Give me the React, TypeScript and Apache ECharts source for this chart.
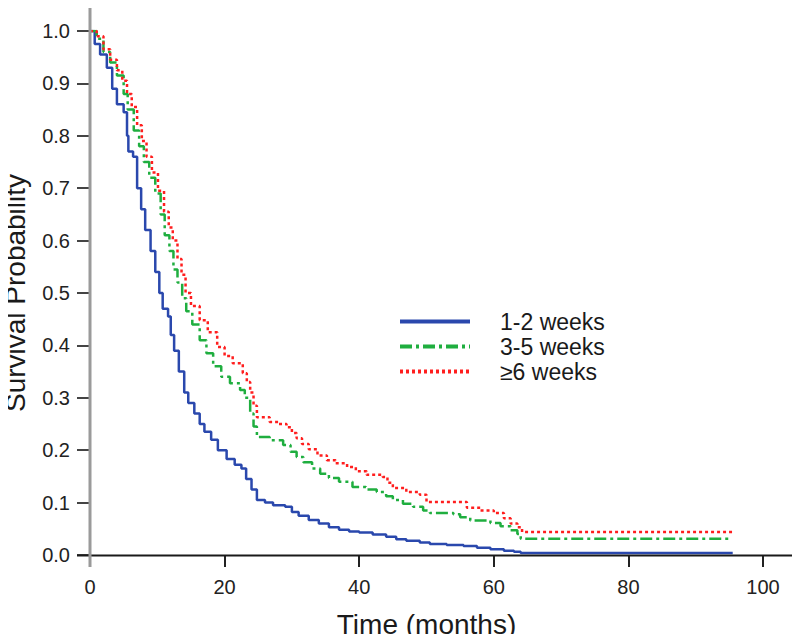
import React, { useEffect, useRef } from "react";
import * as echarts from "echarts";

const seriesNames = ["1-2 weeks", "3-5 weeks", "≥6 weeks"];

const blueT = [0, 0.7, 1.5, 2.5, 3.3, 4.0, 5.0, 5.5, 5.7, 6.4, 7.0, 7.6, 8.2, 9.0, 9.7, 10.3, 10.8, 11.6, 12.0, 12.5, 13.2, 14.0, 14.6, 15.5, 16.3, 17.0, 18.0, 19.0, 20.3, 21.5, 22.5, 23.2, 24.0, 24.8, 26.0, 27.2, 29.0, 30.0, 31.0, 32.5, 34.0, 35.5, 37.0, 38.5, 40.0, 42.0, 44.0, 45.5, 47.0, 49.0, 50.5, 53.0, 55.5, 57.5, 59.5, 61.5, 63.0, 64.0, 95.5];
const blueS = [1.0, 0.975, 0.955, 0.93, 0.89, 0.86, 0.845, 0.8, 0.77, 0.76, 0.7, 0.66, 0.62, 0.58, 0.54, 0.5, 0.47, 0.455, 0.42, 0.39, 0.35, 0.31, 0.29, 0.27, 0.25, 0.235, 0.22, 0.2, 0.183, 0.172, 0.165, 0.145, 0.125, 0.105, 0.1, 0.095, 0.092, 0.082, 0.075, 0.067, 0.06, 0.053, 0.048, 0.045, 0.043, 0.039, 0.035, 0.03, 0.027, 0.024, 0.021, 0.019, 0.017, 0.014, 0.011, 0.008, 0.006, 0.004, 0.004];

const greenT = [0, 1.0, 2.0, 3.0, 4.0, 5.0, 5.6, 6.5, 7.3, 8.0, 8.8, 9.7, 10.5, 11.1, 11.8, 12.4, 13.0, 13.7, 14.3, 15.2, 16.3, 17.3, 18.3, 19.5, 20.8, 22.3, 23.0, 23.8, 24.3, 24.8, 26.7, 28.7, 29.8, 30.7, 31.7, 33.0, 34.2, 35.5, 37.0, 39.0, 41.0, 42.6, 44.0, 45.0, 46.5, 48.0, 49.5, 50.5, 54.0, 55.0, 56.5, 59.5, 61.0, 62.5, 63.5, 64.0, 95.4];
const greenS = [1.0, 0.985, 0.96, 0.94, 0.915, 0.88, 0.85, 0.81, 0.78, 0.75, 0.72, 0.69, 0.65, 0.61, 0.58, 0.545, 0.52, 0.49, 0.465, 0.44, 0.41, 0.385, 0.36, 0.34, 0.328, 0.315, 0.3, 0.27, 0.245, 0.225, 0.219, 0.21, 0.197, 0.187, 0.177, 0.165, 0.155, 0.147, 0.14, 0.13, 0.125, 0.12, 0.112, 0.105, 0.098, 0.092, 0.085, 0.08, 0.078, 0.072, 0.066, 0.061, 0.055, 0.047, 0.04, 0.031, 0.031];

const redT = [0, 1.0, 2.0, 3.0, 4.0, 4.8, 5.5, 6.2, 7.0, 7.7, 8.4, 9.2, 10.1, 11.0, 11.7, 12.3, 13.0, 13.6, 14.2, 15.0, 16.3, 17.5, 18.9, 20.0, 21.2, 22.7, 23.3, 23.8, 24.3, 24.8, 26.7, 28.0, 29.2, 30.0, 30.7, 31.5, 32.5, 33.8, 35.2, 36.5, 38.2, 39.5, 41.1, 43.5, 44.2, 45.0, 47.0, 49.0, 50.0, 55.0, 56.0, 58.0, 60.0, 61.5, 62.5, 63.5, 64.2, 95.4];
const redS = [1.0, 0.99, 0.965, 0.945, 0.925, 0.905, 0.88, 0.855, 0.82, 0.79, 0.76, 0.73, 0.695, 0.655, 0.625, 0.6, 0.565, 0.535, 0.5, 0.475, 0.448, 0.425, 0.397, 0.38, 0.366, 0.347, 0.33, 0.31, 0.285, 0.263, 0.254, 0.25, 0.244, 0.233, 0.223, 0.212, 0.202, 0.19, 0.181, 0.175, 0.168, 0.16, 0.153, 0.149, 0.138, 0.128, 0.12, 0.115, 0.101, 0.101, 0.09, 0.085, 0.08, 0.07, 0.06, 0.053, 0.044, 0.044];

const zip = (t: number[], s: number[]) => t.map((v, i) => [v, s[i]]);

const FONT = "Liberation Sans, Arial, sans-serif";

export default function App() {
  const ref = useRef<HTMLDivElement>(null);
  useEffect(() => {
    if (!ref.current) return;
    const chart = echarts.init(ref.current, null, { renderer: "svg" });
    chart.setOption({
      animation: false,
      backgroundColor: "#ffffff",
      textStyle: { fontFamily: FONT },
      grid: { left: 90, right: 37, top: 31, bottom: 87, containLabel: false, outerBoundsMode: "none" },
      xAxis: {
        type: "value",
        min: 0,
        max: 100,
        interval: 20,
        name: "Time (months)",
        nameLocation: "middle",
        nameGap: 55,
        nameMoveOverlap: false,
        nameTextStyle: { fontSize: 28, color: "#1a1a1a", fontFamily: FONT },
        axisLine: { show: false },
        axisTick: { show: true, length: 12, lineStyle: { color: "#222", width: 2 } },
        axisLabel: { fontSize: 20, color: "#222", margin: 22, fontFamily: FONT },
        splitLine: { show: false },
      },
      yAxis: {
        type: "value",
        min: 0,
        max: 1,
        interval: 0.1,
        name: "Survival Probability",
        nameLocation: "middle",
        nameGap: 61,
        nameMoveOverlap: false,
        nameTextStyle: { fontSize: 28, color: "#1a1a1a", fontFamily: FONT },
        axisLine: { show: false },
        axisTick: { show: true, length: 13, lineStyle: { color: "#444", width: 2 } },
        axisLabel: {
          fontSize: 20,
          color: "#222",
          margin: 20,
          fontFamily: FONT,
          formatter: (v: number) => v.toFixed(1),
        },
        splitLine: { show: false },
      },
      legend: {
        orient: "vertical",
        left: 393,
        top: 305,
        itemWidth: 70,
        itemHeight: 12,
        itemGap: 2,
        data: seriesNames,
        lineStyle: { width: 4 },
        itemStyle: { opacity: 0 },
        textStyle: { fontSize: 23, color: "#1a1a1a", fontFamily: FONT, padding: [0, 0, 0, 25] },
      },
      series: [
        {
          name: seriesNames[0],
          type: "line",
          step: "end",
          symbol: "none",
          data: zip(blueT, blueS),
          lineStyle: { color: "#2a48ad", width: 2.5, type: "solid" },
          itemStyle: { color: "#2a48ad" },
          z: 3,
        },
        {
          name: seriesNames[1],
          type: "line",
          step: "end",
          symbol: "none",
          data: zip(greenT, greenS),
          lineStyle: { color: "#1fae3f", width: 2.5, type: [12, 4, 3, 4] },
          itemStyle: { color: "#1fae3f" },
          z: 4,
        },
        {
          name: seriesNames[2],
          type: "line",
          step: "end",
          symbol: "none",
          data: zip(redT, redS),
          lineStyle: { color: "#ff1e1e", width: 2.5, type: [3, 3] },
          itemStyle: { color: "#ff1e1e" },
          z: 5,
        },
      ],
      graphic: [
        {
          type: "line",
          z: 10,
          shape: { x1: 77, y1: 555.5, x2: 800, y2: 555.5 },
          style: { stroke: "#1a1a1a", lineWidth: 2 },
        },
        {
          type: "line",
          z: 11,
          shape: { x1: 90, y1: 0, x2: 90, y2: 567 },
          style: { stroke: "#9a9a9a", lineWidth: 3 },
        },
      ],
    });
    return () => chart.dispose();
  }, []);
  return <div ref={ref} style={{ width: 800, height: 642, margin: -8 }} />;
}
